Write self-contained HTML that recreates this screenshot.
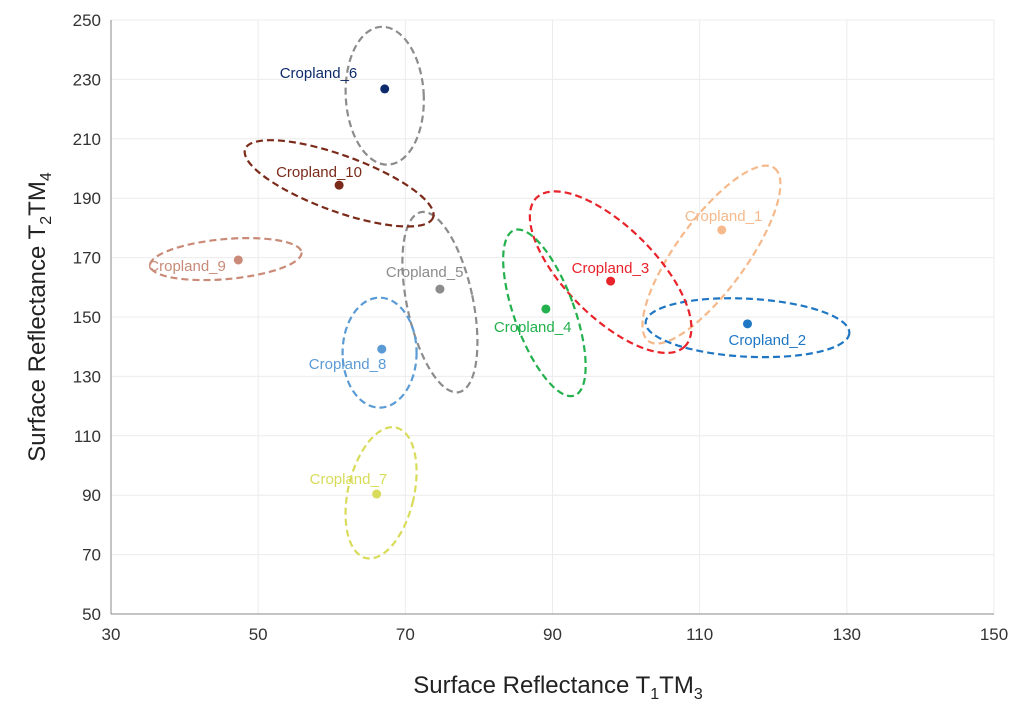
<!DOCTYPE html>
<html><head><meta charset="utf-8"><style>
body{margin:0;background:#fff;font-family:"Liberation Sans",sans-serif}
svg text{font-family:"Liberation Sans",sans-serif}
</style></head><body>
<svg id="chart" width="1024" height="711" viewBox="0 0 1024 711" xmlns="http://www.w3.org/2000/svg">
<g id="grid"></g>
<g id="axes"></g>
<g id="marks"></g>
<text x="558" y="693" font-size="24" fill="#222" text-anchor="middle">Surface Reflectance T<tspan font-size="16" dy="6">1</tspan><tspan dy="-6">TM</tspan><tspan font-size="16" dy="6">3</tspan></text>
<text transform="translate(45,317) rotate(-90)" font-size="24" fill="#222" text-anchor="middle">Surface Reflectance T<tspan font-size="16" dy="6">2</tspan><tspan dy="-6">TM</tspan><tspan font-size="16" dy="6">4</tspan></text>
</svg>
<script>
const xTicks=[30,50,70,90,110,130,150];
const yTicks=[50,70,90,110,130,150,170,190,210,230,250];
const names=["Cropland_1","Cropland_2","Cropland_3","Cropland_4","Cropland_5","Cropland_6","Cropland_7","Cropland_8","Cropland_9","Cropland_10"];
const xVals=[113.0,116.5,97.9,89.1,74.7,67.2,66.1,66.8,47.3,61.0];
const yVals=[179.3,147.7,162.1,152.7,159.4,226.8,90.4,139.2,169.2,194.4];
const colors=["#f5b98b","#1f77c4","#e8232a","#22b14c","#8c8c8c","#0d2a6b","#d8dc5a","#5b9bd5","#c98a78","#7b2a1a"];
const ellColors=["#f5b98b","#1f77c4","#e8232a","#22b14c","#8c8c8c","#8c8c8c","#d8dc5a","#5b9bd5","#c98a78","#7b2a1a"];
// ellipse centers (data units), semi-axes (pixels), rotation
const ellCx=[111.6,116.5,97.9,88.9,74.7,67.2,66.7,66.5,45.6,61.0];
const ellCy=[171.0,146.4,165.1,151.4,155.0,224.5,90.8,138.0,169.5,195.0];
const ellRx=[107,102,105,30,33,39,33,37,76,100];
const ellRy=[35,29,45,88,92,69,67,55,20,28];
const ellRot=[-54,3,45,-20,-12,-3,13,0,-5,20];
const labDx=[-37,-19,-39,-52,-54,-105,-67,-73,-90,-63];
const labDy=[-9,21,-8,23,-12,-11,-10,20,11,-8];

const x=v=>111+(v-30)*(994-111)/120;
const y=v=>614-(v-50)*(614-20)/200;
const NS="http://www.w3.org/2000/svg";
function mk(tag,attrs,parent){const e=document.createElementNS(NS,tag);for(const k in attrs)e.setAttribute(k,attrs[k]);parent.appendChild(e);return e;}
const grid=document.getElementById('grid'),axes=document.getElementById('axes'),marks=document.getElementById('marks');
xTicks.forEach(t=>{
 const l=mk('line',{x1:x(t),x2:x(t),y1:20,y2:614,stroke:'#ececec','stroke-width':1},grid);
 
 
 const tx=mk('text',{x:x(t),y:640,'font-size':17,fill:'#333','text-anchor':'middle'},axes);
 tx.textContent=t;
 
 
});
yTicks.forEach(t=>{
 const l=mk('line',{x1:111,x2:994,y1:y(t),y2:y(t),stroke:'#ececec','stroke-width':1},grid);
 
 
 const tx=mk('text',{x:101,y:y(t)+6,'font-size':17,fill:'#333','text-anchor':'end'},axes);
 tx.textContent=t;
 
 
});
const ax1=mk('line',{x1:111,x2:111,y1:20,y2:614,stroke:'#888','stroke-width':1},axes);


const ax2=mk('line',{x1:111,x2:994,y1:614,y2:614,stroke:'#888','stroke-width':1},axes);


names.forEach((n,i)=>{
 const cx=x(ellCx[i]),cy=y(ellCy[i]);
 const e=mk('ellipse',{cx:cx,cy:cy,rx:ellRx[i],ry:ellRy[i],transform:`rotate(${ellRot[i]} ${cx} ${cy})`,fill:'none',stroke:ellColors[i],'stroke-width':2.2,'stroke-dasharray':'7 4'},marks);
 
 
 const px=x(xVals[i]),py=y(yVals[i]);
 const c=mk('circle',{cx:px,cy:py,r:4.5,fill:colors[i]},marks);
 
 
 const t=mk('text',{x:px+labDx[i],y:py+labDy[i],'font-size':15,fill:colors[i]},marks);
 t.textContent=n;
 
 
});
</script>
</body></html>
